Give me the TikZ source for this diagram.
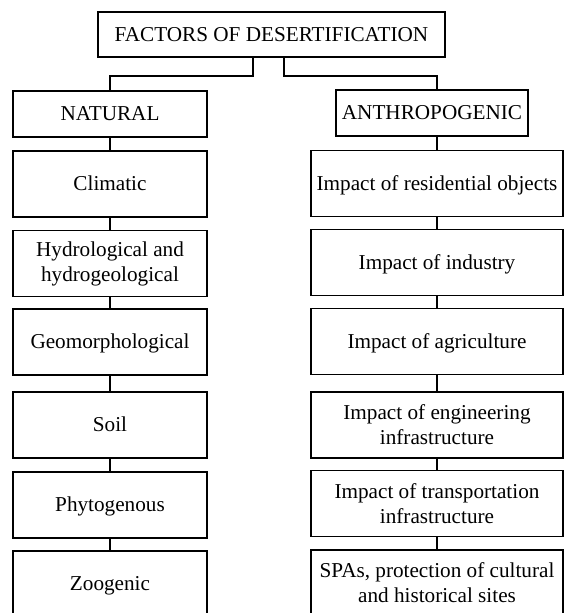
\documentclass[tikz,border=0pt]{standalone}
\usepackage{fontspec}
\setmainfont{Liberation Serif}
\usetikzlibrary{calc}

\begin{document}
\begin{tikzpicture}[x=0.5pt,y=-0.5pt,inner sep=0pt,line width=0.9pt,
  box/.style={draw,align=center,font=\fontsize{10.6}{12.5}\selectfont},
  one/.style={text height=0.9em,text depth=0.24em},
  lbox/.style={box,minimum width=97pt,minimum height=33pt},
  rbox/.style={box,minimum width=126pt,minimum height=33pt}]
\useasboundingbox (0,0) rectangle (565,613);
\node[box,one,minimum width=173.5pt,minimum height=22.5pt] (top) at (271.5,34.5) {FACTORS OF DESERTIFICATION};
\node[box,one,minimum width=97pt,minimum height=23pt] (nat) at (110,114) {NATURAL};
\node[box,one,minimum width=96pt,minimum height=23pt] (ant) at (432,113) {ANTHROPOGENIC};

% natural factors
\node[lbox,one] (l1) at (110,184) {Climatic};
\node[lbox] (l2) at (110,263.5) {Hydrological and\\hydrogeological};
\node[lbox,one] (l3) at (110,342) {Geomorphological};
\node[lbox,one] (l4) at (110,425) {Soil};
\node[lbox,one] (l5) at (110,505) {Phytogenous};
\node[lbox,one] (l6) at (110,584) {Zoogenic};

% anthropogenic factors
\node[rbox,one] (r1) at (437,183.5) {Impact of residential objects};
\node[rbox,one] (r2) at (437,262.5) {Impact of industry};
\node[rbox,one] (r3) at (437,341.5) {Impact of agriculture};
\node[rbox] (r4) at (437,425) {Impact of engineering\\infrastructure};
\node[rbox] (r5) at (437,503.5) {Impact of transportation\\infrastructure};
\node[rbox] (r6) at (437,583) {SPAs, protection of cultural\\and historical sites};

\draw ($(top.south)+(-18.5,0)$) -- ++(0,18) -| (nat.north);
\draw ($(top.south)+(12.5,0)$) -- ++(0,18) -| (ant.north -| r1.north);
\draw (nat) -- (l1) -- (l2) -- (l3) -- (l4) -- (l5) -- (l6);
\draw (ant.south -| r1.north) -- (r1.north);
\draw (r1) -- (r2) -- (r3) -- (r4) -- (r5) -- (r6);
\end{tikzpicture}
\end{document}
